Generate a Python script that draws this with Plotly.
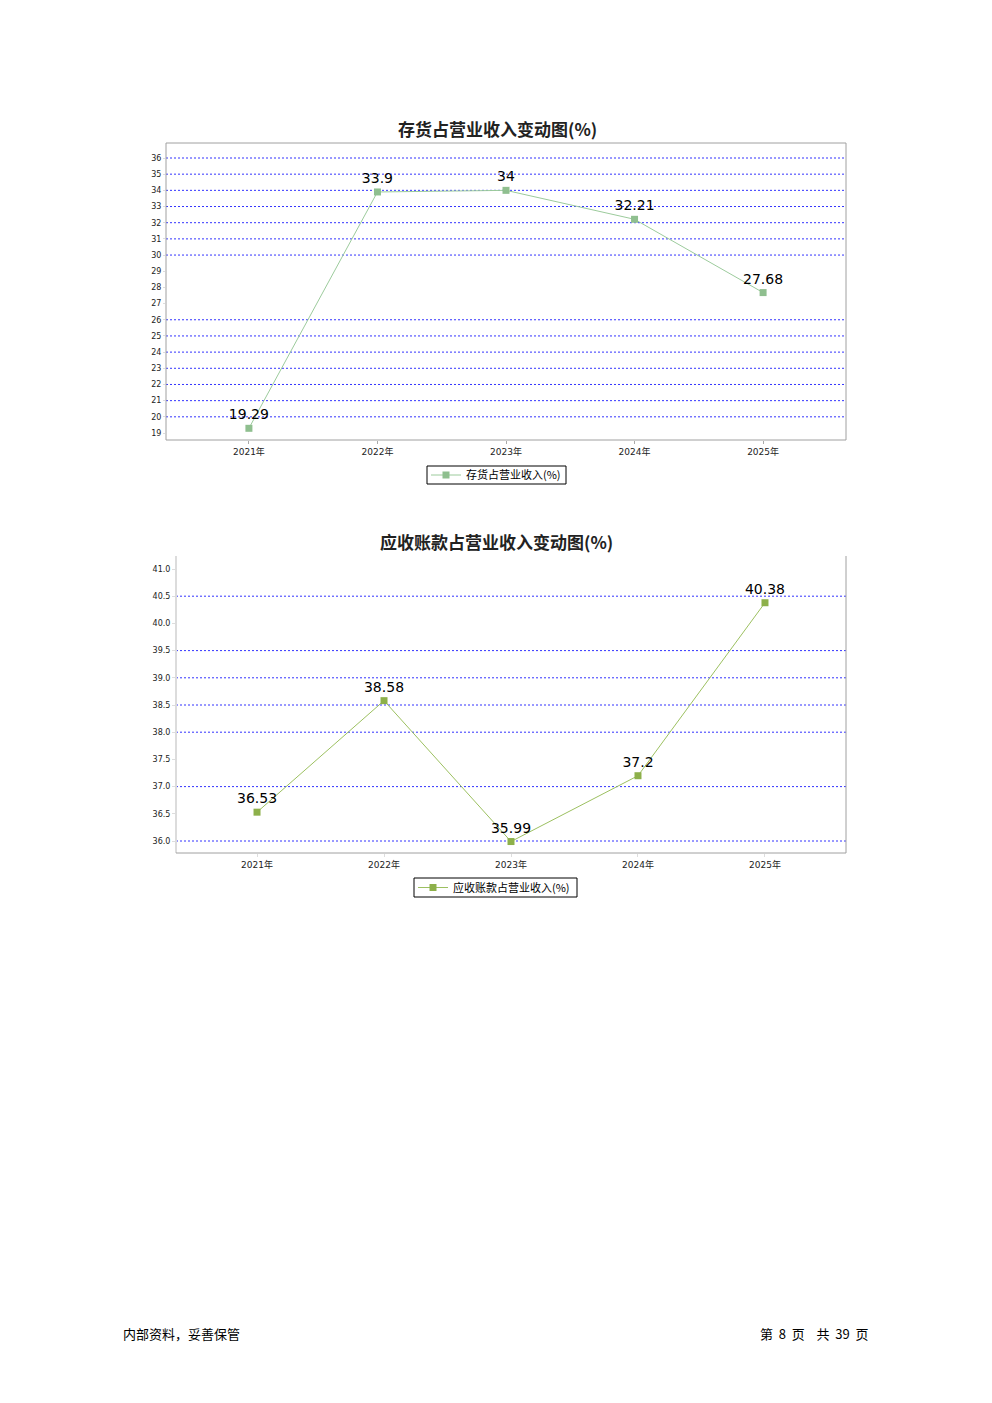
import plotly.graph_objects as go

years = ["2021年", "2022年", "2023年", "2024年", "2025年"]
inv_vals = [19.29, 33.9, 34, 32.21, 27.68]
ar_vals = [36.53, 38.58, 35.99, 37.2, 40.38]

inv_ticks = list(range(19, 37))
inv_grid = [20, 21, 22, 23, 24, 25, 26, 30, 31, 32, 33, 34, 35, 36]
ar_ticks = [36.0, 36.5, 37.0, 37.5, 38.0, 38.5, 39.0, 39.5, 40.0, 40.5, 41.0]
ar_grid = [36.0, 37.0, 38.0, 38.5, 39.0, 39.5, 40.5]

W, H = 992, 1403
FONT = "DejaVu Sans, Noto Sans CJK SC"
CJK = "Noto Sans CJK SC, DejaVu Sans"

def px(x): return x / W
def py(y): return 1 - y / H

fig = go.Figure()

fig.add_trace(go.Scatter(
    x=years, y=inv_vals, mode="lines+markers+text", name="存货占营业收入(%)",
    line=dict(color="#9ccb9c", width=1),
    marker=dict(symbol="square", size=7, color="#8fbf8f"),
    text=[str(v) for v in inv_vals], textposition="top center",
    textfont=dict(family=FONT, size=14, color="#000"),
    xaxis="x", yaxis="y", legend="legend", cliponaxis=False))

fig.add_trace(go.Scatter(
    x=years, y=ar_vals, mode="lines+markers+text", name="应收账款占营业收入(%)",
    line=dict(color="#9cc060", width=1),
    marker=dict(symbol="square", size=7, color="#8db04a"),
    text=[str(v) for v in ar_vals], textposition="top center",
    textfont=dict(family=FONT, size=14, color="#000"),
    xaxis="x2", yaxis="y2", legend="legend2", cliponaxis=False))

shapes = []
for g in inv_grid:
    shapes.append(dict(type="line", xref="x domain", yref="y", x0=0, x1=1, y0=g, y1=g,
                       line=dict(color="#3333ff", width=1, dash="2px,2px"), layer="below"))
for g in ar_grid:
    shapes.append(dict(type="line", xref="x2 domain", yref="y2", x0=0, x1=1, y0=g, y1=g,
                       line=dict(color="#3333ff", width=1, dash="2px,2px"), layer="below"))
# chart 1 frame
shapes.append(dict(type="rect", xref="x domain", yref="y domain", x0=0, x1=1, y0=0, y1=1,
                   line=dict(color="#a0a0a0", width=1)))
# chart 2 frame (left light, right and bottom gray)
shapes.append(dict(type="line", xref="x2 domain", yref="y2 domain", x0=0, x1=0, y0=0, y1=1,
                   line=dict(color="#dcdcdc", width=2)))
shapes.append(dict(type="line", xref="x2 domain", yref="y2 domain", x0=1, x1=1, y0=0, y1=1,
                   line=dict(color="#a0a0a0", width=1)))
shapes.append(dict(type="line", xref="x2 domain", yref="y2 domain", x0=0, x1=1, y0=0, y1=0,
                   line=dict(color="#a0a0a0", width=1)))
# legend boxes
shapes.append(dict(type="rect", xref="paper", yref="paper",
                   x0=px(427), x1=px(566), y0=py(484), y1=py(466),
                   line=dict(color="#000", width=1), fillcolor="white", layer="below"))
shapes.append(dict(type="rect", xref="paper", yref="paper",
                   x0=px(414), x1=px(577), y0=py(897), y1=py(878),
                   line=dict(color="#000", width=1), fillcolor="white", layer="below"))

axis_common = dict(showgrid=False, zeroline=False, showline=False, fixedrange=True)

fig.update_layout(
    width=W, height=H, margin=dict(l=0, r=0, t=0, b=0),
    paper_bgcolor="white", plot_bgcolor="rgba(0,0,0,0)",
    showlegend=True,
    shapes=shapes,
    xaxis=dict(domain=[px(166), px(846)], anchor="y", type="category",
               range=[-0.645, 4.645], ticks="outside", ticklen=3, tickcolor="#aaa",
               tickfont=dict(family=FONT, size=9, color="#222"), **axis_common),
    yaxis=dict(domain=[py(440), py(143)], anchor="x",
               range=[19 - 7 / 16.18, 36 + 15 / 16.18],
               tickvals=inv_ticks, ticktext=[str(t) for t in inv_ticks],
               ticks="outside", ticklen=2, tickcolor="#ddd",
               tickfont=dict(family=FONT, size=8, color="#222"), **axis_common),
    xaxis2=dict(domain=[px(176), px(846)], anchor="y2", type="category",
                range=[-0.638, 4.638], ticks="outside", ticklen=3, tickcolor="#ddd",
                tickfont=dict(family=FONT, size=9, color="#222"), **axis_common),
    yaxis2=dict(domain=[py(853), py(556)], anchor="x2",
                range=[36 - 12 / 54.4, 41 + 13 / 54.4],
                tickvals=ar_ticks, ticktext=[f"{t:.1f}" for t in ar_ticks],
                ticks="outside", ticklen=3, tickcolor="#ddd",
                tickfont=dict(family=FONT, size=8, color="#222"), **axis_common),
    legend=dict(x=px(426), y=py(475), xanchor="left", yanchor="middle",
                orientation="h", borderwidth=0, bgcolor="rgba(0,0,0,0)",
                font=dict(family=CJK, size=11, color="#000"),
                itemwidth=30, tracegroupgap=0),
    legend2=dict(x=px(413), y=py(887.5), xanchor="left", yanchor="middle",
                 orientation="h", borderwidth=0, bgcolor="rgba(0,0,0,0)",
                 font=dict(family=CJK, size=11, color="#000"),
                 itemwidth=30, tracegroupgap=0),
    annotations=[
        dict(text="<b>存货占营业收入变动图(%)</b>", xref="paper", yref="paper",
             x=px(497), y=py(128), xanchor="center", yanchor="middle", showarrow=False,
             font=dict(family=CJK, size=17, color="#222")),
        dict(text="<b>应收账款占营业收入变动图(%)</b>", xref="paper", yref="paper",
             x=px(496), y=py(541), xanchor="center", yanchor="middle", showarrow=False,
             font=dict(family=CJK, size=17, color="#222")),
        dict(text="内部资料，妥善保管", xref="paper", yref="paper",
             x=px(121), y=py(1333), xanchor="left", yanchor="middle", showarrow=False,
             font=dict(family="Noto Sans CJK SC", size=13, color="#000")),
        dict(text="第  8  页    共  39  页", xref="paper", yref="paper",
             x=px(871), y=py(1333), xanchor="right", yanchor="middle", showarrow=False,
             font=dict(family="Noto Sans CJK SC, Liberation Serif", size=13, color="#000")),
    ],
)

fig.write_html("out.html", post_script="document.body.style.margin='0';",
               config={"displayModeBar": False})
